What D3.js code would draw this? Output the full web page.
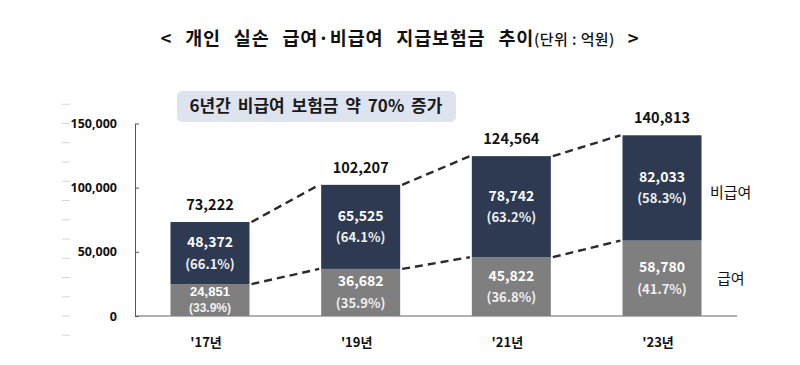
<!DOCTYPE html>
<html>
<head>
<meta charset="utf-8">
<script src="https://cdn.jsdelivr.net/npm/d3@7"></script>
<style>
  body { margin: 0; background: #fff; }
  text { font-family: "Noto Sans CJK KR", "Noto Sans", sans-serif; }
</style>
</head>
<body>
<div id="chart"></div>
<script>
// data
var years = ["'17년", "'19년", "'21년", "'23년"];
var covered = [24851, 36682, 45822, 58780];        // 급여
var nonCovered = [48372, 65525, 78742, 82033];     // 비급여
var totals = [73222, 102207, 124564, 140813];
var coveredPct = ["33.9%", "35.9%", "36.8%", "41.7%"];
var nonCoveredPct = ["66.1%", "64.1%", "63.2%", "58.3%"];
var yTicks = [0, 50000, 100000, 150000];

var svgWidth = 800;
var svgHeight = 365;

var svg = d3.select("#chart")
  .append("svg")
  .attr("width", svgWidth)
  .attr("height", svgHeight);

var barWidth = 79;

var x = d3.scalePoint()
  .domain(years)
  .range([210, 662]);

var y = d3.scaleLinear()
  .domain([0, 150000])
  .range([316, 123.5]);

// title
var title = svg.append("text")
  .attr("x", 400)
  .attr("y", 45)
  .attr("text-anchor", "middle")
  .style("font-size", "18.5px")
  .style("font-weight", "bold")
  .style("letter-spacing", "0.8px")
  .style("word-spacing", "8px")
  .attr("fill", "#111");
title.append("tspan").text("< 개인 실손 급여·비급여 지급보험금 추이");
title.append("tspan")
  .style("font-size", "15px")
  .style("font-weight", "500")
  .style("letter-spacing", "0.4px")
  .style("word-spacing", "0px")
  .text("(단위 : 억원)");
title.append("tspan").text(" >");

// faint dashes on the far left (as in the scan)
svg.append("g")
  .selectAll("line")
  .data(d3.range(-15000, 170000, 15000))
  .enter()
  .append("line")
  .attr("x1", 62)
  .attr("x2", 70)
  .attr("y1", d => y(d))
  .attr("y2", d => y(d))
  .attr("stroke", "#d4d4d4")
  .attr("stroke-width", 1);

// callout box
svg.append("rect")
  .attr("x", 177)
  .attr("y", 91)
  .attr("width", 279)
  .attr("height", 31)
  .attr("rx", 5)
  .attr("fill", "#dde4f0");

svg.append("text")
  .attr("x", 316)
  .attr("y", 112)
  .attr("text-anchor", "middle")
  .style("font-size", "17px")
  .style("font-weight", "bold")
  .style("word-spacing", "3px")
  .attr("fill", "#1a1a1a")
  .text("6년간 비급여 보험금 약 70% 증가");

// y axis
var leftAxis = d3.axisLeft(y)
  .tickValues(yTicks)
  .tickSizeInner(-4)
  .tickSizeOuter(0)
  .tickPadding(18)
  .tickFormat(d3.format(","));

var yAxis = svg.append("g")
  .attr("transform", "translate(135,0)")
  .call(leftAxis);
yAxis.select(".domain").attr("stroke", "#555");
yAxis.selectAll(".tick line").attr("stroke", "#555");
yAxis.selectAll(".tick text")
  .style("font-size", "12.5px")
  .style("font-weight", "bold")
  .style("font-family", "'Noto Sans', sans-serif")
  .attr("fill", "#111");

// baseline
svg.append("line")
  .attr("x1", 135)
  .attr("x2", 737)
  .attr("y1", y(0))
  .attr("y2", y(0))
  .attr("stroke", "#666")
  .attr("stroke-width", 1.2);

var rows = years.map(function(yr, i) {
  return { year: yr, covered: covered[i], nonCovered: nonCovered[i], total: totals[i],
           cPct: coveredPct[i], nPct: nonCoveredPct[i] };
});

// dashed connectors
var pairs = d3.range(rows.length - 1);
var dashG = svg.append("g");
dashG.selectAll("line.top")
  .data(pairs)
  .enter()
  .append("line")
  .attr("x1", i => x(years[i]) + barWidth / 2 + 2)
  .attr("x2", i => x(years[i + 1]) - barWidth / 2 - 2)
  .attr("y1", i => y(totals[i]))
  .attr("y2", i => y(totals[i + 1]))
  .attr("stroke", "#2b2b2b")
  .attr("stroke-width", 2.4)
  .attr("stroke-dasharray", "8,5");
dashG.selectAll("line.mid")
  .data(pairs)
  .enter()
  .append("line")
  .attr("x1", i => x(years[i]) + barWidth / 2 + 2)
  .attr("x2", i => x(years[i + 1]) - barWidth / 2 - 2)
  .attr("y1", i => y(covered[i]))
  .attr("y2", i => y(covered[i + 1]))
  .attr("stroke", "#2b2b2b")
  .attr("stroke-width", 2.4)
  .attr("stroke-dasharray", "8,5");

// bars
var barG = svg.append("g").selectAll("g")
  .data(rows)
  .enter()
  .append("g");

barG.append("rect")
  .attr("x", d => x(d.year) - barWidth / 2)
  .attr("width", barWidth)
  .attr("y", d => y(d.covered))
  .attr("height", d => y(0) - y(d.covered))
  .attr("fill", "#7f7f7f");

barG.append("rect")
  .attr("x", d => x(d.year) - barWidth / 2)
  .attr("width", barWidth)
  .attr("y", d => y(d.total))
  .attr("height", d => y(d.covered) - y(d.total))
  .attr("fill", "#2d3a52");

function segLabels(sel, top, bottom, val, pct) {
  function gapOf(d) {
    return Math.min(21, (y(bottom(d)) - y(top(d))) * 0.45);
  }
  function small(d) {
    return (y(bottom(d)) - y(top(d))) < 40;
  }
  sel.append("text")
    .attr("x", d => x(d.year))
    .attr("y", function(d) {
      var mid = (y(top(d)) + y(bottom(d))) / 2;
      return mid - gapOf(d) / 2 + (small(d) ? 3.5 : 4.5);
    })
    .attr("text-anchor", "middle")
    .style("font-size", d => small(d) ? "13px" : "14px")
    .style("font-family", d => small(d) ? "'Liberation Sans', sans-serif" : null)
    .style("font-weight", "bold")
    .attr("fill", "#fff")
    .text(d => d3.format(",")(val(d)));
  sel.append("text")
    .attr("x", d => x(d.year))
    .attr("y", function(d) {
      var mid = (y(top(d)) + y(bottom(d))) / 2;
      return mid + gapOf(d) / 2 + 5;
    })
    .attr("text-anchor", "middle")
    .style("font-size", d => small(d) ? "12px" : "13px")
    .style("font-family", d => small(d) ? "'Liberation Sans', sans-serif" : null)
    .style("font-weight", "bold")
    .attr("fill", "#f0f0f0")
    .text(d => "(" + pct(d) + ")");
}

segLabels(barG, d => d.total, d => d.covered, d => d.nonCovered, d => d.nPct);
segLabels(barG, d => d.covered, d => 0, d => d.covered, d => d.cPct);

// totals above bars
barG.append("text")
  .attr("x", d => x(d.year))
  .attr("y", d => y(d.total) - 12)
  .attr("text-anchor", "middle")
  .style("font-size", "14.5px")
  .style("font-weight", "bold")
  .attr("fill", "#111")
  .text(d => d3.format(",")(d.total));

// x labels
barG.append("text")
  .attr("x", d => x(d.year) - 4)
  .attr("y", 347)
  .attr("text-anchor", "middle")
  .style("font-size", "13px")
  .style("font-weight", "bold")
  .attr("fill", "#111")
  .text(d => d.year);

// series labels on the right
var last = rows[rows.length - 1];
svg.append("text")
  .attr("x", 710)
  .attr("y", (y(last.total) + y(last.covered)) / 2 + 10)
  .style("font-size", "15px")
  .attr("fill", "#111")
  .text("비급여");
svg.append("text")
  .attr("x", 717)
  .attr("y", (y(last.covered) + y(0)) / 2 + 6)
  .style("font-size", "15px")
  .attr("fill", "#111")
  .text("급여");
</script>
</body>
</html>
